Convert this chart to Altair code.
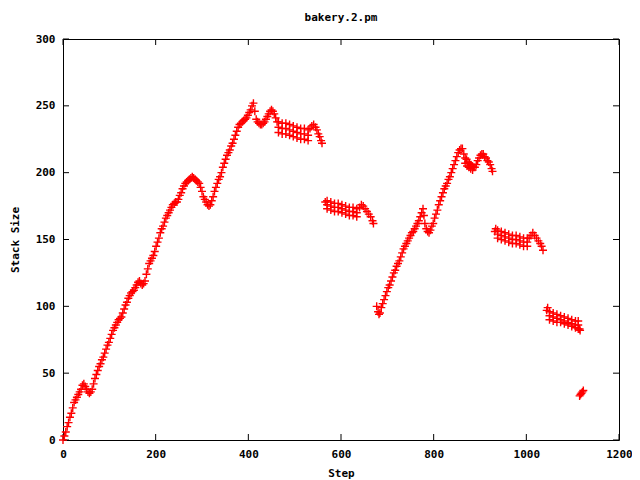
import altair as alt
import pandas as pd

# ---------------- data ----------------
# continuous rising trace (step, stack size)
rise_steps = [0, 3, 6, 9, 12, 15, 18, 21, 24, 27, 30, 33, 36, 39, 42, 45, 48, 51, 54, 57,
              60, 63, 66, 69, 72, 75, 78, 81, 84, 87, 90, 93, 96, 99, 102, 105, 108, 111, 114, 117,
              120, 123, 126, 129, 132, 135, 138, 141, 144, 147, 150, 153, 156, 159, 162, 165, 168, 171, 174, 177,
              180, 183, 186, 189, 192, 195, 198, 201, 204, 207, 210, 213, 216, 219, 222, 225, 228, 231, 234, 237,
              240, 243, 246, 249, 252, 255, 258, 261, 264, 267, 270, 273, 276, 279, 282, 285, 288, 291, 294, 297,
              300, 303, 306, 309, 312, 315, 318, 321, 324, 327, 330, 333, 336, 339, 342, 345, 348, 351, 354, 357,
              360, 363, 366, 369, 372, 375, 378, 381, 384, 387, 390, 393, 396, 399, 402, 405, 408, 411, 414, 417,
              420, 423, 426, 429, 432, 435, 438, 441, 444, 447, 450, 453, 456, 459, 462]
rise_sizes = [0, 3, 6, 10, 13, 17, 20, 24, 28, 30, 32, 34, 36, 38, 41, 42, 40, 38, 36, 35,
              36, 38, 42, 46, 49, 52, 55, 57, 60, 62, 65, 68, 71, 73, 76, 79, 82, 84, 86, 88,
              90, 91, 92, 95, 98, 101, 103, 106, 108, 110, 111, 112, 114, 116, 118, 119, 117, 116, 117, 119,
              124, 128, 132, 134, 136, 138, 141, 145, 148, 151, 155, 158, 160, 163, 166, 168, 170, 172, 174, 176,
              177, 178, 178, 180, 183, 185, 188, 190, 192, 193, 194, 195, 196, 197, 196, 195, 194, 193, 192, 189,
              186, 182, 180, 178, 176, 175, 176, 179, 182, 186, 189, 192, 195, 197, 200, 204, 207, 210, 213, 215,
              217, 220, 222, 225, 228, 231, 234, 236, 237, 238, 239, 240, 241, 243, 245, 247, 250, 252, 246, 240,
              238, 237, 236, 236, 237, 238, 240, 242, 244, 246, 247, 246, 244, 241, 238]

# plateau band after the first peak (three rows)
band1_steps = [465, 473, 481, 489, 497, 505, 513, 521, 529]
band1_top = [238, 237, 237, 236, 235, 234, 233, 233, 232]
band1_mid = [234, 233, 233, 232, 231, 230, 229, 229, 228]
band1_bot = [230, 229, 229, 228, 227, 226, 225, 225, 224]
tail1_steps = [533, 537, 541, 545, 548, 551, 554, 557, 559]
tail1_sizes = [233, 235, 236, 234, 232, 229, 227, 224, 222]

# second cluster
band2_steps = [570, 578, 586, 594, 602, 610, 618, 626, 634]
band2_top = [179, 178, 177, 177, 176, 175, 174, 174, 173]
band2_mid = [176, 175, 174, 174, 173, 172, 171, 171, 170]
band2_bot = [173, 172, 171, 171, 170, 169, 168, 168, 167]
tail2_steps = [566, 640, 644, 648, 652, 656, 660, 664, 668, 670]
tail2_sizes = [178, 174, 176, 175, 173, 171, 169, 167, 164, 162]

# second rising trace
rise2_steps = [677, 680, 682, 684, 687, 690, 693, 696, 699, 702, 705, 708, 711, 714, 717, 720, 723, 726, 729, 732,
               735, 738, 741, 744, 747, 750, 753, 756, 759, 762, 765, 768, 771, 774, 777, 779, 781, 784, 787, 790,
               793, 796, 799, 802, 805, 808, 811, 814, 817, 820, 823, 826, 829, 832, 835, 838, 841, 844, 847, 850,
               853, 856, 859, 862, 865, 868, 871, 874, 877, 880, 883, 886, 889, 892, 895, 898, 901, 904, 907, 910,
               913, 916, 919, 922, 925, 927, 868, 872, 876, 880, 884]
rise2_sizes = [100, 96, 94, 95, 99, 102, 105, 108, 111, 114, 116, 119, 122, 125, 127, 130, 132, 134, 137, 140,
               143, 145, 147, 149, 151, 153, 155, 156, 158, 160, 162, 164, 167, 170, 173, 168, 162, 158, 156, 155,
               157, 160, 162, 166, 169, 172, 176, 179, 182, 185, 188, 190, 192, 195, 197, 200, 203, 206, 209, 212,
               215, 217, 218, 218, 214, 211, 210, 208, 207, 206, 205, 204, 204, 206, 209, 211, 213, 214, 214, 212,
               211, 209, 208, 206, 203, 201, 207, 205, 204, 203, 202]

# third cluster
band3_steps = [938, 946, 954, 962, 970, 978, 986, 994, 1002]
band3_top = [157, 156, 155, 154, 153, 153, 152, 151, 151]
band3_mid = [154, 153, 152, 151, 150, 150, 149, 148, 148]
band3_bot = [151, 150, 149, 148, 147, 147, 146, 145, 145]
tail3_steps = [932, 934, 1006, 1010, 1014, 1018, 1022, 1026, 1030, 1033, 1036]
tail3_sizes = [156, 158, 151, 153, 155, 153, 151, 149, 147, 145, 142]

# fourth cluster
band4_steps = [1050, 1058, 1066, 1074, 1082, 1090, 1098, 1106, 1112]
band4_top = [96, 95, 94, 93, 92, 91, 90, 89, 89]
band4_mid = [93, 92, 91, 90, 89, 88, 87, 86, 86]
band4_bot = [90, 89, 88, 88, 87, 86, 85, 84, 83]
tail4_steps = [1044, 1046, 1115, 1116]
tail4_sizes = [97, 99, 83, 82]

# last few points
end_steps = [1115, 1117, 1119, 1121, 1123]
end_sizes = [33, 34, 35, 36, 37]

x_ticks = [0, 200, 400, 600, 800, 1000, 1200]
y_ticks = [0, 50, 100, 150, 200, 250, 300]

# ---------------- build table ----------------
steps, sizes = [], []
for s_list, v_list in [
    (rise_steps, rise_sizes),
    (band1_steps, band1_top), (band1_steps, band1_mid), (band1_steps, band1_bot),
    (tail1_steps, tail1_sizes),
    (band2_steps, band2_top), (band2_steps, band2_mid), (band2_steps, band2_bot),
    (tail2_steps, tail2_sizes),
    (rise2_steps, rise2_sizes),
    (band3_steps, band3_top), (band3_steps, band3_mid), (band3_steps, band3_bot),
    (tail3_steps, tail3_sizes),
    (band4_steps, band4_top), (band4_steps, band4_mid), (band4_steps, band4_bot),
    (tail4_steps, tail4_sizes),
    (end_steps, end_sizes),
]:
    steps.extend(s_list)
    sizes.extend(v_list)

df = pd.DataFrame({"step": steps, "size": sizes})
xt_df = pd.DataFrame({"step": x_ticks})
yt_df = pd.DataFrame({"size": y_ticks})

W, H = 556, 401
FONT = "DejaVu Sans Mono"
FS = 11
TL = 6

xscale = alt.Scale(domain=[0, 1200], nice=False, zero=False)
yscale = alt.Scale(domain=[0, 300], nice=False, zero=False)

xaxis = alt.Axis(values=x_ticks, format="d", title="Step", tickSize=0, domain=False, grid=False,
                 labelPadding=8, labelFont=FONT, labelFontSize=FS, labelFontWeight="bold",
                 labelColor="black", titleFont=FONT, titleFontSize=FS, titleFontWeight="bold",
                 titleColor="black", titlePadding=8, labelFlush=False, labelOverlap=False)
yaxis = alt.Axis(values=y_ticks, format="d", title="Stack Size", tickSize=0, domain=False, grid=False,
                 labelPadding=8, labelFont=FONT, labelFontSize=FS, labelFontWeight="bold",
                 labelColor="black", titleFont=FONT, titleFontSize=FS, titleFontWeight="bold",
                 titleColor="black", titlePadding=15, labelFlush=False, labelOverlap=False)

plus = "M -1 0 L 1 0 M 0 -1 L 0 1"

points = alt.Chart(df).mark_point(
    shape=plus, size=64, strokeWidth=1.4, color="#ff0000", filled=False, opacity=1
).encode(
    x=alt.X("step:Q", scale=xscale, axis=xaxis),
    y=alt.Y("size:Q", scale=yscale, axis=yaxis),
)

tick_bottom = alt.Chart(xt_df).mark_rule(color="black", strokeWidth=1).encode(
    x=alt.X("step:Q", scale=xscale, axis=xaxis), y=alt.value(H), y2=alt.value(H - TL))
tick_top = alt.Chart(xt_df).mark_rule(color="black", strokeWidth=1).encode(
    x=alt.X("step:Q", scale=xscale, axis=xaxis), y=alt.value(0), y2=alt.value(TL))
tick_left = alt.Chart(yt_df).mark_rule(color="black", strokeWidth=1).encode(
    y=alt.Y("size:Q", scale=yscale, axis=yaxis), x=alt.value(0), x2=alt.value(TL))
tick_right = alt.Chart(yt_df).mark_rule(color="black", strokeWidth=1).encode(
    y=alt.Y("size:Q", scale=yscale, axis=yaxis), x=alt.value(W), x2=alt.value(W - TL))

chart = alt.layer(tick_bottom, tick_top, tick_left, tick_right, points).properties(
    width=W, height=H,
    title=alt.TitleParams("bakery.2.pm", anchor="middle", font=FONT, fontSize=FS,
                          fontWeight="bold", color="black", offset=10),
    autosize=alt.AutoSizeParams(type="none"),
    padding={"left": 55, "top": 31, "right": 13, "bottom": 40},
    background="white",
).configure_view(stroke="black", strokeWidth=1)

chart.save("out.html", embed_options={"renderer": "svg", "actions": False})
